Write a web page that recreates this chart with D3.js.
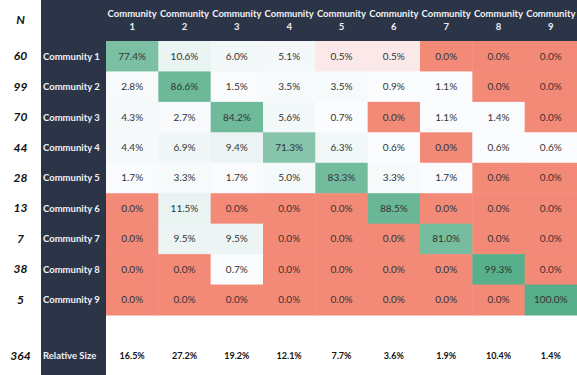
<!DOCTYPE html>
<html>
<head>
<meta charset="utf-8">
<title>Community Matrix</title>
<script src="https://cdnjs.cloudflare.com/ajax/libs/d3/7.8.5/d3.min.js"></script>
<style>
    body { margin: 0; background: #fff; }
    text { font-family: Lato, "Open Sans", sans-serif; }
    .head { fill: #f0f2f6; font-weight: bold; font-size: 9.5px; text-anchor: middle; }
    .rowlab { fill: #f0f2f6; font-weight: bold; font-size: 9.5px; }
    .nval { fill: #111; font-weight: bold; font-style: italic; font-size: 12px; text-anchor: middle; }
    .cell text { fill: #333; font-size: 10px; text-anchor: middle; }
    .rel { fill: #111; font-weight: bold; font-size: 9px; text-anchor: middle; }
</style>
</head>
<body>
<svg id="chart" width="577" height="375"></svg>
<script>
    var communities = ["1", "2", "3", "4", "5", "6", "7", "8", "9"];
    var nValues = [60, 99, 70, 44, 28, 13, 7, 38, 5];
    var nTotal = 364;
    // percent of row community members in column community
    var matrix = [
        [77.4, 10.6, 6.0, 5.1, 0.5, 0.5, 0.0, 0.0, 0.0],
        [2.8, 86.6, 1.5, 3.5, 3.5, 0.9, 1.1, 0.0, 0.0],
        [4.3, 2.7, 84.2, 5.6, 0.7, 0.0, 1.1, 1.4, 0.0],
        [4.4, 6.9, 9.4, 71.3, 6.3, 0.6, 0.0, 0.6, 0.6],
        [1.7, 3.3, 1.7, 5.0, 83.3, 3.3, 1.7, 0.0, 0.0],
        [0.0, 11.5, 0.0, 0.0, 0.0, 88.5, 0.0, 0.0, 0.0],
        [0.0, 9.5, 9.5, 0.0, 0.0, 0.0, 81.0, 0.0, 0.0],
        [0.0, 0.0, 0.7, 0.0, 0.0, 0.0, 0.0, 99.3, 0.0],
        [0.0, 0.0, 0.0, 0.0, 0.0, 0.0, 0.0, 0.0, 100.0]
    ];
    var relativeSize = [16.5, 27.2, 19.2, 12.1, 7.7, 3.6, 1.9, 10.4, 1.4];

    var svg = d3.select("#chart"),
        width = +svg.attr("width"),
        height = +svg.attr("height");

    var navy = "#2c3447";
    var gridLeft = 106, gridTop = 41, gridBottom = 315, nCol = 41;

    var x = d3.scaleBand().domain(communities).range([gridLeft, width]);
    var y = d3.scaleBand().domain(communities).range([gridTop, gridBottom]);

    // excel-like 3 colour scale: min red, median white, max green
    var flat = matrix.flat();
    var color = d3.scaleLinear()
        .domain([d3.min(flat), d3.median(flat), d3.max(flat)])
        .range(["#f38a78", "#fbfcfe", "#56ae8a"]);

    // dark panels
    svg.append("rect").attr("x", nCol).attr("y", 0)
        .attr("width", width - nCol).attr("height", gridTop).attr("fill", navy);
    svg.append("rect").attr("x", nCol).attr("y", 0)
        .attr("width", gridLeft - nCol).attr("height", height).attr("fill", navy);

    // column headers
    var head = svg.selectAll(".head")
        .data(communities)
        .enter().append("text")
        .attr("class", "head")
        .attr("x", function(d) { return x(d) + x.bandwidth() / 2; });
    head.append("tspan").attr("y", 17).text("Community");
    head.append("tspan")
        .attr("x", function(d) { return x(d) + x.bandwidth() / 2; })
        .attr("y", 30).text(function(d) { return d; });

    svg.append("text").attr("class", "nval")
        .attr("x", nCol / 2).attr("y", 24).text("N");

    // rows
    var row = svg.selectAll(".row")
        .data(matrix)
        .enter().append("g")
        .attr("class", "row")
        .attr("transform", function(d, i) { return "translate(0," + y(communities[i]) + ")"; });

    row.append("text").attr("class", "rowlab")
        .attr("x", 43).attr("y", y.bandwidth() / 2 + 3.5)
        .text(function(d, i) { return "Community " + communities[i]; });

    row.append("text").attr("class", "nval")
        .attr("x", nCol / 2).attr("y", y.bandwidth() / 2 + 4)
        .text(function(d, i) { return nValues[i]; });

    var cell = row.selectAll(".cell")
        .data(function(d) { return d; })
        .enter().append("g")
        .attr("class", "cell")
        .attr("transform", function(d, j) { return "translate(" + x(communities[j]) + ",0)"; });

    cell.append("rect")
        .attr("width", x.bandwidth() + 0.5)
        .attr("height", y.bandwidth() + 0.5)
        .attr("fill", function(d) { return color(d); });

    cell.append("text")
        .attr("x", x.bandwidth() / 2)
        .attr("y", y.bandwidth() / 2 + 3.5)
        .text(function(d) { return d.toFixed(1) + "%"; });

    // relative size row
    var relY = 360;
    svg.append("text").attr("class", "nval")
        .attr("x", nCol / 2).attr("y", relY).text(nTotal);
    svg.append("text").attr("class", "rowlab")
        .attr("x", 43).attr("y", relY - 1).text("Relative Size");
    svg.selectAll(".rel")
        .data(relativeSize)
        .enter().append("text")
        .attr("class", "rel")
        .attr("x", function(d, i) { return x(communities[i]) + x.bandwidth() / 2; })
        .attr("y", relY - 1)
        .text(function(d) { return d.toFixed(1) + "%"; });
</script>
</body>
</html>
